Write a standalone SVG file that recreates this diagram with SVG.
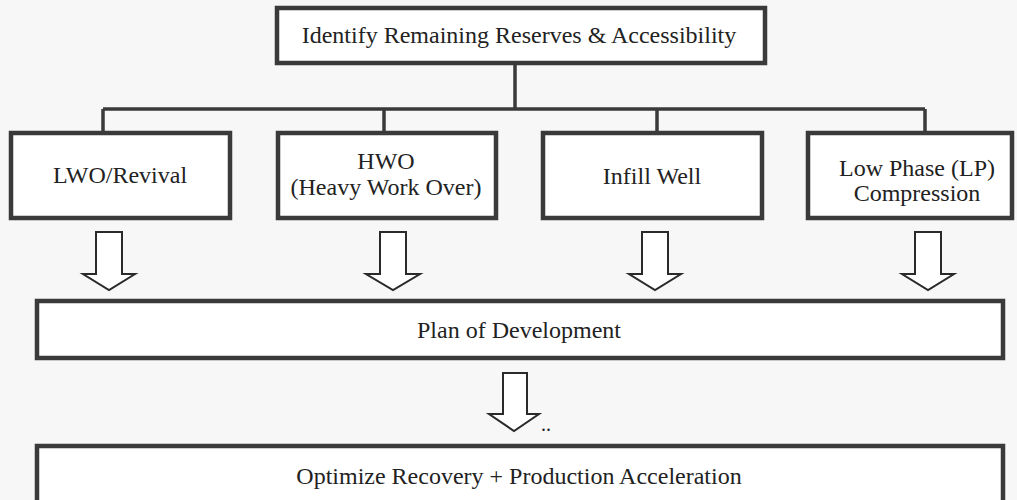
<svg xmlns="http://www.w3.org/2000/svg" width="1017" height="500" viewBox="0 0 1017 500">
<defs>
<style>
.box{fill:#ffffff;stroke:#3a3a3a;stroke-width:4.5}
.lbl{font-family:"Liberation Serif","Times New Roman",serif;font-size:24px;fill:#222;text-anchor:middle}
.conn{fill:none;stroke:#3a3a3a;stroke-width:3.5}
.barrow{fill:#ffffff;stroke:#2a2a2a;stroke-width:2;stroke-linejoin:miter}
</style>
</defs>
<rect x="0" y="0" width="1017" height="500" fill="#f7f7f7"/>
<g id="connectors">
<path class="conn" d="M515 63 V109 M103 109 H925 M103 109 V132 M384 109 V132 M657 109 V132 M925 109 V132"/>
<path class="barrow" d="M96 232 H122 V274 H135 L109 290 L83 274 H96 Z"/>
<path class="barrow" d="M380 232 H406 V274 H420 L393 290 L366 274 H380 Z"/>
<path class="barrow" d="M642 232 H668 V274 H681 L655 290 L629 274 H642 Z"/>
<path class="barrow" d="M915 232 H941 V274 H954 L928 290 L902 274 H915 Z"/>
<path class="barrow" d="M503 373 H527 V414 H539 L514 431 L489 414 H503 Z"/>
</g>
<g id="node-top">
<rect class="box" x="277" y="8" width="488" height="55"/>
<text class="lbl" x="519" y="43">Identify Remaining Reserves &amp; Accessibility</text>
</g>
<g id="node-lwo">
<rect class="box" x="11" y="133" width="219" height="85"/>
<text class="lbl" x="120" y="183">LWO/Revival</text>
</g>
<g id="node-hwo">
<rect class="box" x="278" y="133" width="218" height="85"/>
<text class="lbl" x="386" y="169">HWO</text>
<text class="lbl" x="386" y="195">(Heavy Work Over)</text>
</g>
<g id="node-infill">
<rect class="box" x="543" y="133" width="219" height="85"/>
<text class="lbl" x="652" y="184">Infill Well</text>
</g>
<g id="node-lp">
<rect class="box" x="808" y="133" width="204" height="85"/>
<text class="lbl" x="917" y="176">Low Phase (LP)</text>
<text class="lbl" x="917" y="201">Compression</text>
</g>
<g id="node-pod">
<rect class="box" x="37" y="301" width="966" height="57"/>
<text class="lbl" x="519" y="338">Plan of Development</text>
</g>
<text x="541" y="431" style="font-family:'Liberation Serif',serif;font-size:20px;fill:#222">..</text>
<g id="node-optimize">
<rect class="box" x="37" y="446" width="966" height="60"/>
<text class="lbl" x="519" y="484">Optimize Recovery + Production Acceleration</text>
</g>
</svg>
